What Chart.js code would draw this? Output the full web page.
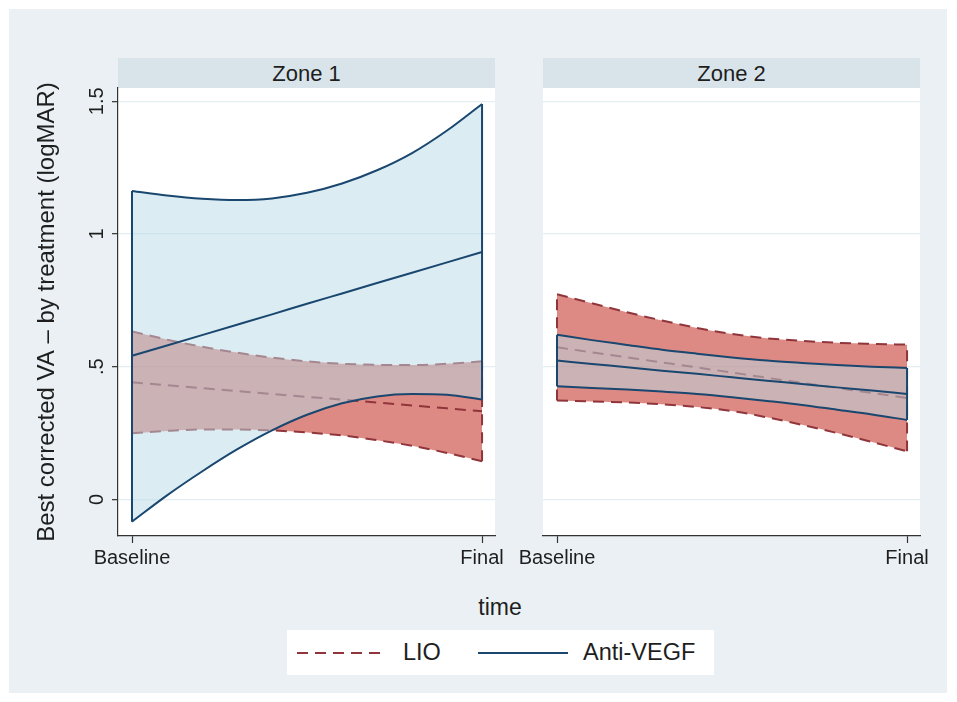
<!DOCTYPE html>
<html>
<head>
<meta charset="utf-8">
<script src="https://cdn.jsdelivr.net/npm/chart.js@4.4.1/dist/chart.umd.min.js"></script>
<style>
  body { margin: 0; width: 957px; height: 702px; position: relative; overflow: hidden; background: #fff;
         font-family: 'Liberation Sans', Arial, Helvetica, sans-serif; color: #1e1e1e; }
  #frame { position: absolute; left: 9px; top: 9px; width: 938px; height: 684px; background: #eaf0f3; }
  .strip { position: absolute; top: 58px; width: 377px; height: 30px; line-height: 31px; background: #d9e4ea;
           text-align: center; font-size: 22px; }
  canvas { position: absolute; }
  #xtitle { position: absolute; left: 400px; width: 200px; top: 594px; text-align: center; font-size: 23px; }
  #legend { position: absolute; left: 287px; top: 630px; width: 427px; height: 45px; background: #fff; font-size: 23.5px; }
  #legend span { position: absolute; top: 9px; }
  #legend svg { position: absolute; top: 0; left: 0; }
</style>
</head>
<body>
<div id="frame"></div>
<div class="strip" style="left:118px">Zone 1</div>
<div class="strip" style="left:543px">Zone 2</div>
<canvas id="zone1" width="505" height="500" style="left:10px; top:80px"></canvas>
<canvas id="zone2" width="437" height="500" style="left:503px; top:80px"></canvas>
<div id="xtitle">time</div>
<div id="legend">
  <svg width="427" height="45">
    <line x1="10" y1="23" x2="100" y2="23" stroke="#90353b" stroke-width="2" stroke-dasharray="11,7"></line>
    <line x1="191" y1="23" x2="281" y2="23" stroke="#1a476f" stroke-width="2"></line>
  </svg>
  <span style="left:116px">LIO</span>
  <span style="left:296px">Anti-VEGF</span>
</div>
<script>
// x runs from Baseline (0) to Final (1)
const timeLabels = ['Baseline', 'Final'];
const timeGrid = [0, 0.1, 0.2, 0.3, 0.4, 0.5, 0.6, 0.7, 0.8, 0.9, 1];
const yTickValues = [0, 0.5, 1, 1.5];
const yTickLabels = ['0', '.5', '1', '1.5'];

// Zone 1
const zone1LioUpper = [0.633, 0.602, 0.575, 0.553, 0.534, 0.520, 0.511, 0.507, 0.506, 0.511, 0.520];
const zone1LioMean = [0.441, 0.430, 0.419, 0.408, 0.397, 0.386, 0.376, 0.365, 0.354, 0.343, 0.332];
const zone1LioLower = [0.249, 0.258, 0.263, 0.263, 0.260, 0.252, 0.241, 0.223, 0.202, 0.175, 0.144];
const zone1VegfUpper = [1.162, 1.145, 1.133, 1.128, 1.134, 1.155, 1.190, 1.240, 1.305, 1.390, 1.490];
const zone1VegfMean = [0.541, 0.580, 0.619, 0.658, 0.697, 0.737, 0.776, 0.815, 0.854, 0.893, 0.932];
const zone1VegfLower = [-0.084, 0.015, 0.105, 0.188, 0.260, 0.319, 0.362, 0.388, 0.397, 0.394, 0.376];

// Zone 2
const zone2LioUpper = [0.773, 0.739, 0.705, 0.674, 0.646, 0.623, 0.607, 0.597, 0.590, 0.586, 0.583];
const zone2LioMean = [0.573, 0.554, 0.535, 0.516, 0.497, 0.478, 0.458, 0.439, 0.420, 0.401, 0.382];
const zone2LioLower = [0.373, 0.369, 0.365, 0.358, 0.348, 0.333, 0.309, 0.281, 0.250, 0.216, 0.181];
const zone2VegfUpper = [0.620, 0.600, 0.582, 0.564, 0.549, 0.535, 0.523, 0.514, 0.506, 0.500, 0.495];
const zone2VegfMean = [0.523, 0.510, 0.498, 0.485, 0.473, 0.460, 0.447, 0.435, 0.422, 0.410, 0.397];
const zone2VegfLower = [0.426, 0.420, 0.414, 0.406, 0.397, 0.385, 0.371, 0.356, 0.338, 0.320, 0.299];

const FONT = "'Liberation Sans', Arial, Helvetica, sans-serif";
const INK = '#1e1e1e';
const AXIS = '#333';

const lioStyle = { line: '#90353b', fill: 'rgba(200, 60, 50, 0.6)', dash: [11, 7], order: 2 };
const vegfStyle = { line: '#1a476f', fill: 'rgba(183, 218, 229, 0.5)', dash: [], order: 1 };

function pts(arr) {
  return timeGrid.map((t, i) => ({ x: t, y: arr[i] }));
}

// chart.js paints the highest index first, so the filled upper edge goes last
// and its shading ends up under the other lines of the same band
function band(upper, mean, lower, s) {
  const base = { borderColor: s.line, borderWidth: 2, borderDash: s.dash, pointRadius: 0,
                 cubicInterpolationMode: 'monotone', order: s.order };
  const last = timeGrid.length - 1;
  return [
    { ...base, data: pts(mean), fill: false },
    { ...base, data: [{ x: timeGrid[0], y: lower[0] }, { x: timeGrid[0], y: upper[0] }], fill: false },
    { ...base, data: [{ x: timeGrid[last], y: lower[last] }, { x: timeGrid[last], y: upper[last] }], fill: false },
    { ...base, data: pts(lower), fill: false },
    { ...base, data: pts(upper), fill: '-1', backgroundColor: s.fill },
  ];
}

const plotBg = {
  id: 'plotBg',
  beforeDraw(chart) {
    const a = chart.chartArea;
    chart.ctx.save();
    chart.ctx.fillStyle = '#fff';
    chart.ctx.fillRect(a.left, a.top, a.right - a.left, a.bottom - a.top);
    chart.ctx.restore();
  }
};

// Stata writes y labels turned on their side, Chart.js can't, so draw them here
const sideLabels = {
  id: 'sideLabels',
  afterDraw(chart) {
    const ctx = chart.ctx;
    const ys = chart.scales.y;
    ctx.save();
    ctx.fillStyle = INK;
    ctx.textAlign = 'center';
    ctx.textBaseline = 'middle';
    ctx.font = '20px ' + FONT;
    yTickValues.forEach((v, i) => {
      ctx.save();
      ctx.translate(87, ys.getPixelForValue(v));
      ctx.rotate(-Math.PI / 2);
      ctx.fillText(yTickLabels[i], 0, 0);
      ctx.restore();
    });
    ctx.font = '24px ' + FONT;
    ctx.translate(37, (chart.chartArea.top + chart.chartArea.bottom) / 2);
    ctx.rotate(-Math.PI / 2);
    ctx.fillText('Best corrected VA \u2013 by treatment (logMAR)', 0, 0);
    ctx.restore();
  }
};

function makePanel(id, datasets, first) {
  return new Chart(document.getElementById(id), {
    type: 'line',
    data: { datasets },
    options: {
      responsive: false,
      animation: false,
      layout: { padding: { top: 8, right: 20, left: first ? 0 : 40, bottom: 0 } },
      plugins: { legend: { display: false }, tooltip: { enabled: false } },
      scales: {
        x: {
          type: 'linear', min: -0.04, max: 1.037,
          afterBuildTicks: s => { s.ticks = timeLabels.map((_, i) => ({ value: i })); },
          afterFit: s => { s.height = 44; },
          ticks: { callback: (v) => timeLabels[v], font: { family: FONT, size: 20 }, color: INK,
                   padding: 3, maxRotation: 0, autoSkip: false },
          grid: { drawOnChartArea: false, drawTicks: true, tickLength: 7, tickColor: AXIS, tickWidth: 1.2 },
          border: { color: AXIS, width: 1.2 }
        },
        y: {
          min: -0.138, max: 1.55,
          afterBuildTicks: s => { s.ticks = yTickValues.map(v => ({ value: v })); },
          afterFit: s => { s.width = first ? 108 : 0; },
          ticks: { display: false },
          grid: { color: '#e4edf1', lineWidth: 1.3, drawTicks: first, tickLength: 6, tickColor: AXIS, tickWidth: 1.2 },
          border: { display: first, color: AXIS, width: 1.2 }
        }
      }
    },
    plugins: first ? [plotBg, sideLabels] : [plotBg]
  });
}

makePanel('zone1', [
  ...band(zone1LioUpper, zone1LioMean, zone1LioLower, lioStyle),
  ...band(zone1VegfUpper, zone1VegfMean, zone1VegfLower, vegfStyle)
], true);

makePanel('zone2', [
  ...band(zone2LioUpper, zone2LioMean, zone2LioLower, lioStyle),
  ...band(zone2VegfUpper, zone2VegfMean, zone2VegfLower, vegfStyle)
], false);
</script>
</body>
</html>
